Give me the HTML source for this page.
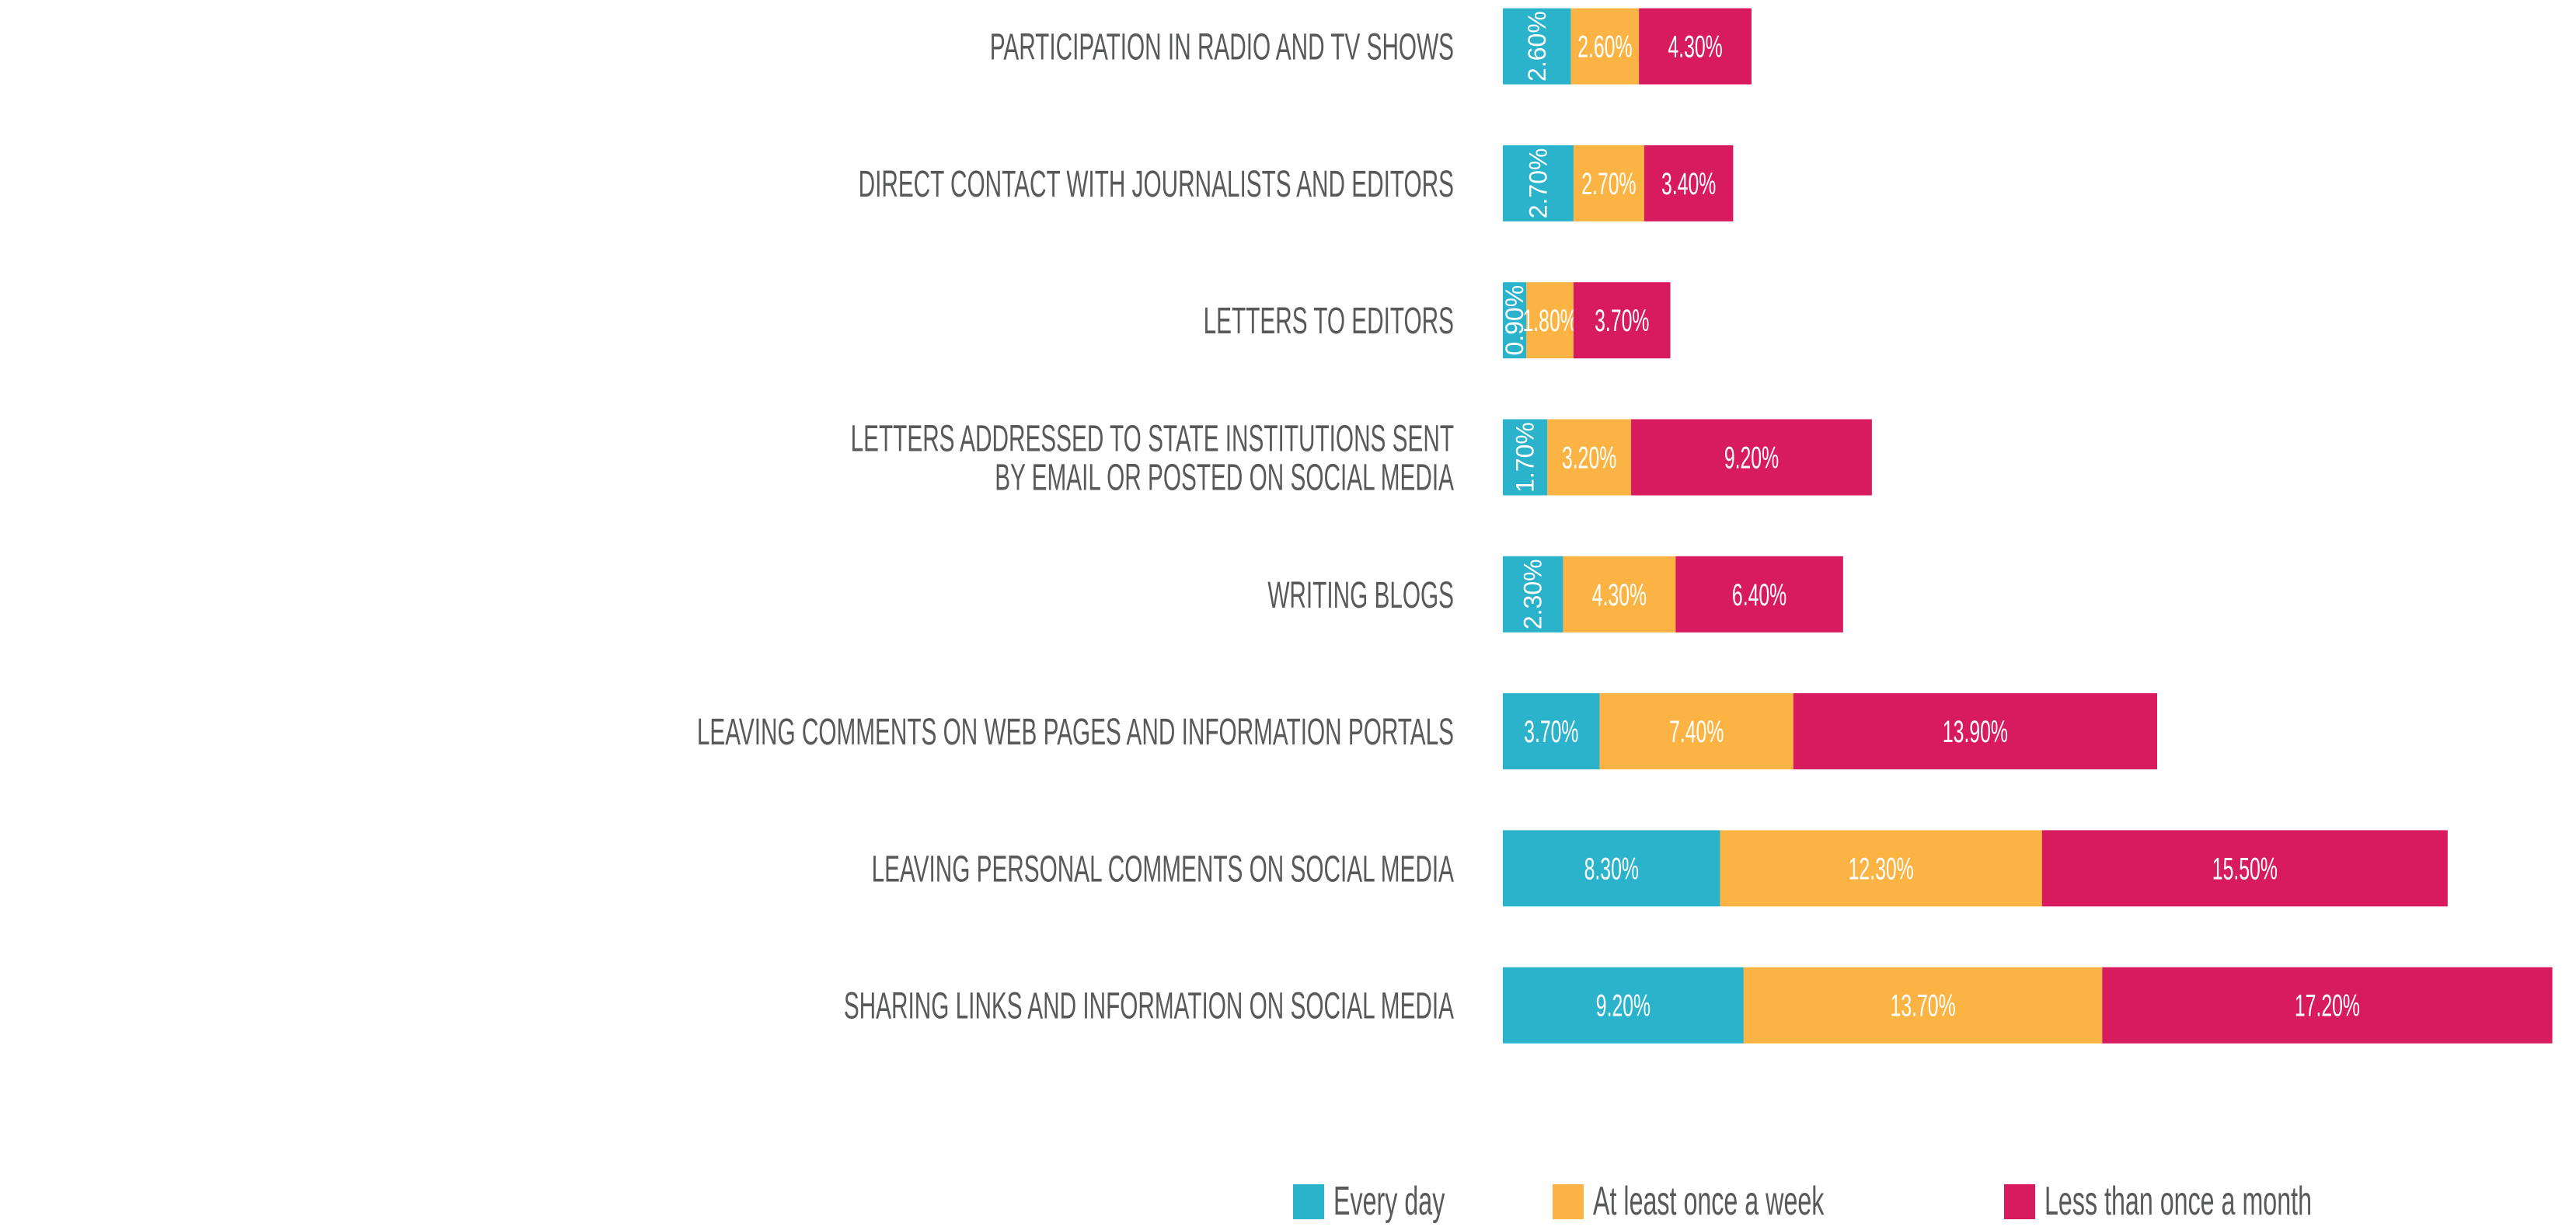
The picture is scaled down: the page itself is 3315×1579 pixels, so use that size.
<!DOCTYPE html>
<html><head><meta charset="utf-8"><style>
html,body{margin:0;padding:0;background:#fff;width:3315px;height:1579px;overflow:hidden}
svg{display:block}
</style></head><body>
<svg id="chart" width="3315" height="1579" viewBox="0 0 3315 1579" xmlns="http://www.w3.org/2000/svg"></svg>
<script>
const categories = [
  ["PARTICIPATION IN RADIO AND TV SHOWS"],
  ["DIRECT CONTACT WITH JOURNALISTS AND EDITORS"],
  ["LETTERS TO EDITORS"],
  ["LETTERS ADDRESSED TO STATE INSTITUTIONS SENT","BY EMAIL OR POSTED ON SOCIAL MEDIA"],
  ["WRITING BLOGS"],
  ["LEAVING COMMENTS ON WEB PAGES AND INFORMATION PORTALS"],
  ["LEAVING PERSONAL COMMENTS ON SOCIAL MEDIA"],
  ["SHARING LINKS AND INFORMATION ON SOCIAL MEDIA"]
];
const everyDay = [2.6, 2.7, 0.9, 1.7, 2.3, 3.7, 8.3, 9.2];
const onceWeek = [2.6, 2.7, 1.8, 3.2, 4.3, 7.4, 12.3, 13.7];
const lessMonth = [4.3, 3.4, 3.7, 9.2, 6.4, 13.9, 15.5, 17.2];
const seriesNames = ["Every day", "At least once a week", "Less than once a month"];

const NS = "http://www.w3.org/2000/svg";
const svg = document.getElementById('chart');
const colors = ["#2cb3cc", "#fbb443", "#d81b5e"];
const x0 = 1934, pxPer = 33.68;
const xScale = v => x0 + v * pxPer;
const rowTop = i => 10.6 + i * 176.3;
const barH = 98;
const labelX = 1871;
const condense = 0.62;

function mk(tag, attrs) {
  const e = document.createElementNS(NS, tag);
  for (const k in attrs) e.setAttribute(k, attrs[k]);
  return e;
}

const series = [everyDay, onceWeek, lessMonth];
categories.forEach((lines, i) => {
  const g = mk('g', {});
  
  
  svg.appendChild(g);
  const top = rowTop(i), cy = top + barH / 2;
  // label
  lines.forEach((ln, j) => {
    const n = lines.length;
    const baseline = cy + 17 + (j - (n - 1) / 2) * 50;
    const t = mk('text', {x: 0, y: 0, 'text-anchor': 'end', fill: '#58595b',
      'font-family': '"Liberation Sans", sans-serif', 'font-size': 48,
      transform: `translate(${labelX},${baseline}) scale(${condense},1)`});
    
    
    t.textContent = ln;
    g.appendChild(t);
  });
  let acc = 0;
  series.forEach((s, k) => {
    const v = s[i];
    const xa = xScale(acc), xb = xScale(acc + v);
    const r = mk('rect', {x: xa, y: top, width: xb - xa, height: barH, fill: colors[k]});
    
    
    g.appendChild(r);
    const label = v.toFixed(2) + '%';
    const cx = (xa + xb) / 2;
    let t;
    if (k === 0 && i < 5) {
      t = mk('text', {x: 0, y: 0, 'text-anchor': 'middle', fill: '#fff',
        'font-family': '"Liberation Sans", sans-serif', 'font-size': 32,
        transform: `translate(${cx + 11},${cy}) rotate(-90)`});
    } else {
      t = mk('text', {x: 0, y: 0, 'text-anchor': 'middle', fill: '#fff',
        'font-family': '"Liberation Sans", sans-serif', 'font-size': 40,
        transform: `translate(${cx},${cy + 14}) scale(0.62,1)`});
    }
    
    
    t.textContent = label;
    g.appendChild(t);
    acc += v;
  });
});

// legend
const legendX = [1664, 1998, 2579];
const lg = mk('g', {});


svg.appendChild(lg);
seriesNames.forEach((nm, k) => {
  const sw = mk('rect', {x: legendX[k], y: 1524, width: 40, height: 45, fill: colors[k]});
  
  
  lg.appendChild(sw);
  const t = mk('text', {x: 0, y: 0, fill: '#58595b',
    'font-family': '"Liberation Sans", sans-serif', 'font-size': 52,
    transform: `translate(${legendX[k] + 52},${1563}) scale(0.62,1)`});
  
  
  t.textContent = nm;
  lg.appendChild(t);
});
</script>
</body></html>
